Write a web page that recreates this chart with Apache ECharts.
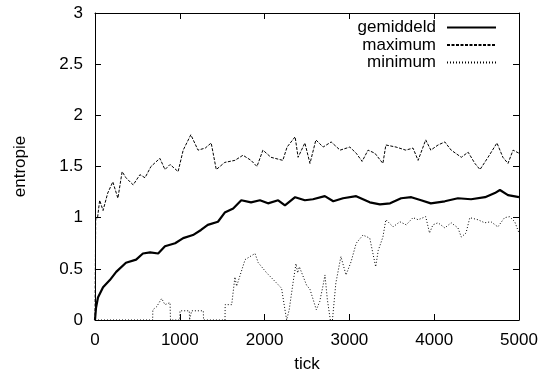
<!DOCTYPE html>
<html>
<head>
<meta charset="utf-8">
<script src="https://cdn.jsdelivr.net/npm/echarts@6/dist/echarts.min.js"></script>
<style>
html,body{margin:0;padding:0;background:#fff;}
#chart{width:543px;height:377px;}
</style>
</head>
<body>
<div id="chart"></div>
<script>
const seriesNames = ['gemiddeld', 'maximum', 'minimum'];
const xTicks = [0, 1000, 2000, 3000, 4000, 5000];
const yTicks = [0, 0.5, 1, 1.5, 2, 2.5, 3];

const meanData = [[0,0],[12,0.12],[35,0.22],[95,0.32],[175,0.39],[250,0.47],[365,0.56],[485,0.59],[565,0.65],[650,0.66],[745,0.65],[825,0.72],[945,0.75],[1040,0.80],[1155,0.83],[1250,0.88],[1330,0.93],[1450,0.96],[1530,1.05],[1630,1.09],[1725,1.17],[1840,1.15],[1945,1.17],[2040,1.14],[2160,1.17],[2240,1.12],[2360,1.20],[2475,1.17],[2570,1.18],[2710,1.21],[2810,1.16],[2925,1.19],[3080,1.21],[3240,1.15],[3360,1.13],[3480,1.14],[3610,1.19],[3730,1.20],[3845,1.17],[3960,1.14],[4125,1.16],[4280,1.19],[4435,1.18],[4600,1.20],[4715,1.24],[4775,1.27],[4870,1.22],[5000,1.20]];

const maxData = [[0,0],[8,0.98],[30,1.0],[55,1.17],[95,1.07],[150,1.24],[210,1.35],[270,1.19],[320,1.45],[365,1.39],[450,1.32],[530,1.42],[590,1.39],[660,1.50],[765,1.58],[825,1.47],[885,1.52],[980,1.45],[1040,1.66],[1130,1.81],[1215,1.66],[1300,1.68],[1370,1.73],[1430,1.47],[1530,1.54],[1650,1.56],[1745,1.61],[1840,1.56],[1910,1.50],[1980,1.66],[2075,1.59],[2215,1.56],[2265,1.69],[2360,1.79],[2395,1.59],[2475,1.73],[2535,1.53],[2605,1.76],[2690,1.69],[2785,1.74],[2890,1.66],[3005,1.69],[3080,1.63],[3150,1.55],[3220,1.66],[3300,1.63],[3395,1.53],[3430,1.71],[3550,1.69],[3665,1.66],[3750,1.68],[3810,1.56],[3900,1.76],[3960,1.66],[4045,1.71],[4125,1.74],[4200,1.66],[4320,1.59],[4400,1.64],[4480,1.53],[4540,1.47],[4635,1.59],[4740,1.73],[4810,1.59],[4870,1.53],[4930,1.66],[5000,1.63]];

const minData = [[0,0],[680,0],[682,0.10],[727,0.13],[786,0.21],[825,0.15],[885,0.17],[890,0],[1000,0],[1002,0.09],[1112,0.09],[1115,0],[1138,0],[1140,0.09],[1277,0.09],[1280,0],[1533,0],[1535,0.15],[1612,0.15],[1650,0.42],[1670,0.33],[1770,0.59],[1887,0.65],[1925,0.56],[2025,0.46],[2143,0.36],[2200,0.31],[2240,0.10],[2260,0],[2290,0.10],[2340,0.39],[2370,0.55],[2390,0.46],[2410,0.52],[2495,0.34],[2535,0.30],[2610,0.10],[2650,0.18],[2690,0.34],[2712,0.44],[2740,0.20],[2775,0],[2800,0],[2840,0.36],[2900,0.62],[2960,0.44],[3020,0.57],[3080,0.75],[3160,0.83],[3240,0.80],[3310,0.52],[3340,0.68],[3395,0.81],[3430,0.98],[3515,0.91],[3595,0.96],[3670,0.93],[3750,1.0],[3810,0.98],[3900,1.01],[3945,0.85],[3985,0.93],[4045,0.95],[4125,0.90],[4200,0.95],[4280,0.90],[4320,0.81],[4375,0.85],[4420,1.0],[4515,0.98],[4595,0.95],[4670,0.96],[4750,0.91],[4830,1.0],[4890,1.01],[4950,0.96],[5000,0.85]];

const FONT = 'Liberation Sans, Arial, sans-serif';
const chart = echarts.init(document.getElementById('chart'), null, {renderer: 'canvas'});

const axisLine = {show: true, onZero: false, lineStyle: {color: '#000', width: 1}};
const tick = {show: true, inside: true, length: 6, lineStyle: {color: '#000', width: 1}};
const labelStyle = {color: '#000', fontSize: 17, fontFamily: FONT};

chart.setOption({
  animation: false,
  backgroundColor: '#fff',
  grid: {left: 95, right: 24, top: 13, bottom: 57, containLabel: false, outerBoundsMode: 'none'},
  legend: {
    orient: 'vertical',
    right: 41,
    top: 14,
    align: 'right',
    itemWidth: 49,
    itemHeight: 12,
    itemGap: 0.5,
    selectedMode: false,
    data: seriesNames,
    itemStyle: {opacity: 0},
    textStyle: {color: '#000', fontSize: 17, lineHeight: 16.5, fontFamily: FONT, padding: [0, 6, 0, 0]}
  },
  xAxis: [{
    type: 'value', min: 0, max: 5000, interval: 1000,
    name: 'tick', nameLocation: 'middle', nameGap: 36,
    nameTextStyle: labelStyle,
    axisLine: axisLine, axisTick: tick,
    axisLabel: Object.assign({margin: 12, formatter: v => String(v)}, labelStyle),
    splitLine: {show: false}
  }, {
    type: 'value', min: 0, max: 5000, interval: 1000, position: 'top',
    axisLine: axisLine, axisTick: tick, axisLabel: {show: false}, splitLine: {show: false}
  }],
  yAxis: [{
    type: 'value', min: 0, max: 3, interval: 0.5,
    name: 'entropie', nameLocation: 'middle', nameGap: 66, nameRotate: 90,
    nameTextStyle: labelStyle,
    axisLine: axisLine, axisTick: tick,
    axisLabel: Object.assign({margin: 12}, labelStyle),
    splitLine: {show: false}
  }, {
    type: 'value', min: 0, max: 3, interval: 0.5, position: 'right',
    axisLine: axisLine, axisTick: tick, axisLabel: {show: false}, splitLine: {show: false}
  }],
  series: [{
    name: seriesNames[0], type: 'line', data: meanData, symbol: 'none',
    color: '#000', lineStyle: {color: '#000', width: 2.2}, z: 3
  }, {
    name: seriesNames[1], type: 'line', data: maxData, symbol: 'none',
    color: '#000', lineStyle: {color: '#000', width: 1, type: [3, 1.5]}, z: 2
  }, {
    name: seriesNames[2], type: 'line', data: minData, symbol: 'none',
    color: '#000', lineStyle: {color: '#000', width: 1, type: [1, 2]}, z: 2
  }]
});
</script>
</body>
</html>
